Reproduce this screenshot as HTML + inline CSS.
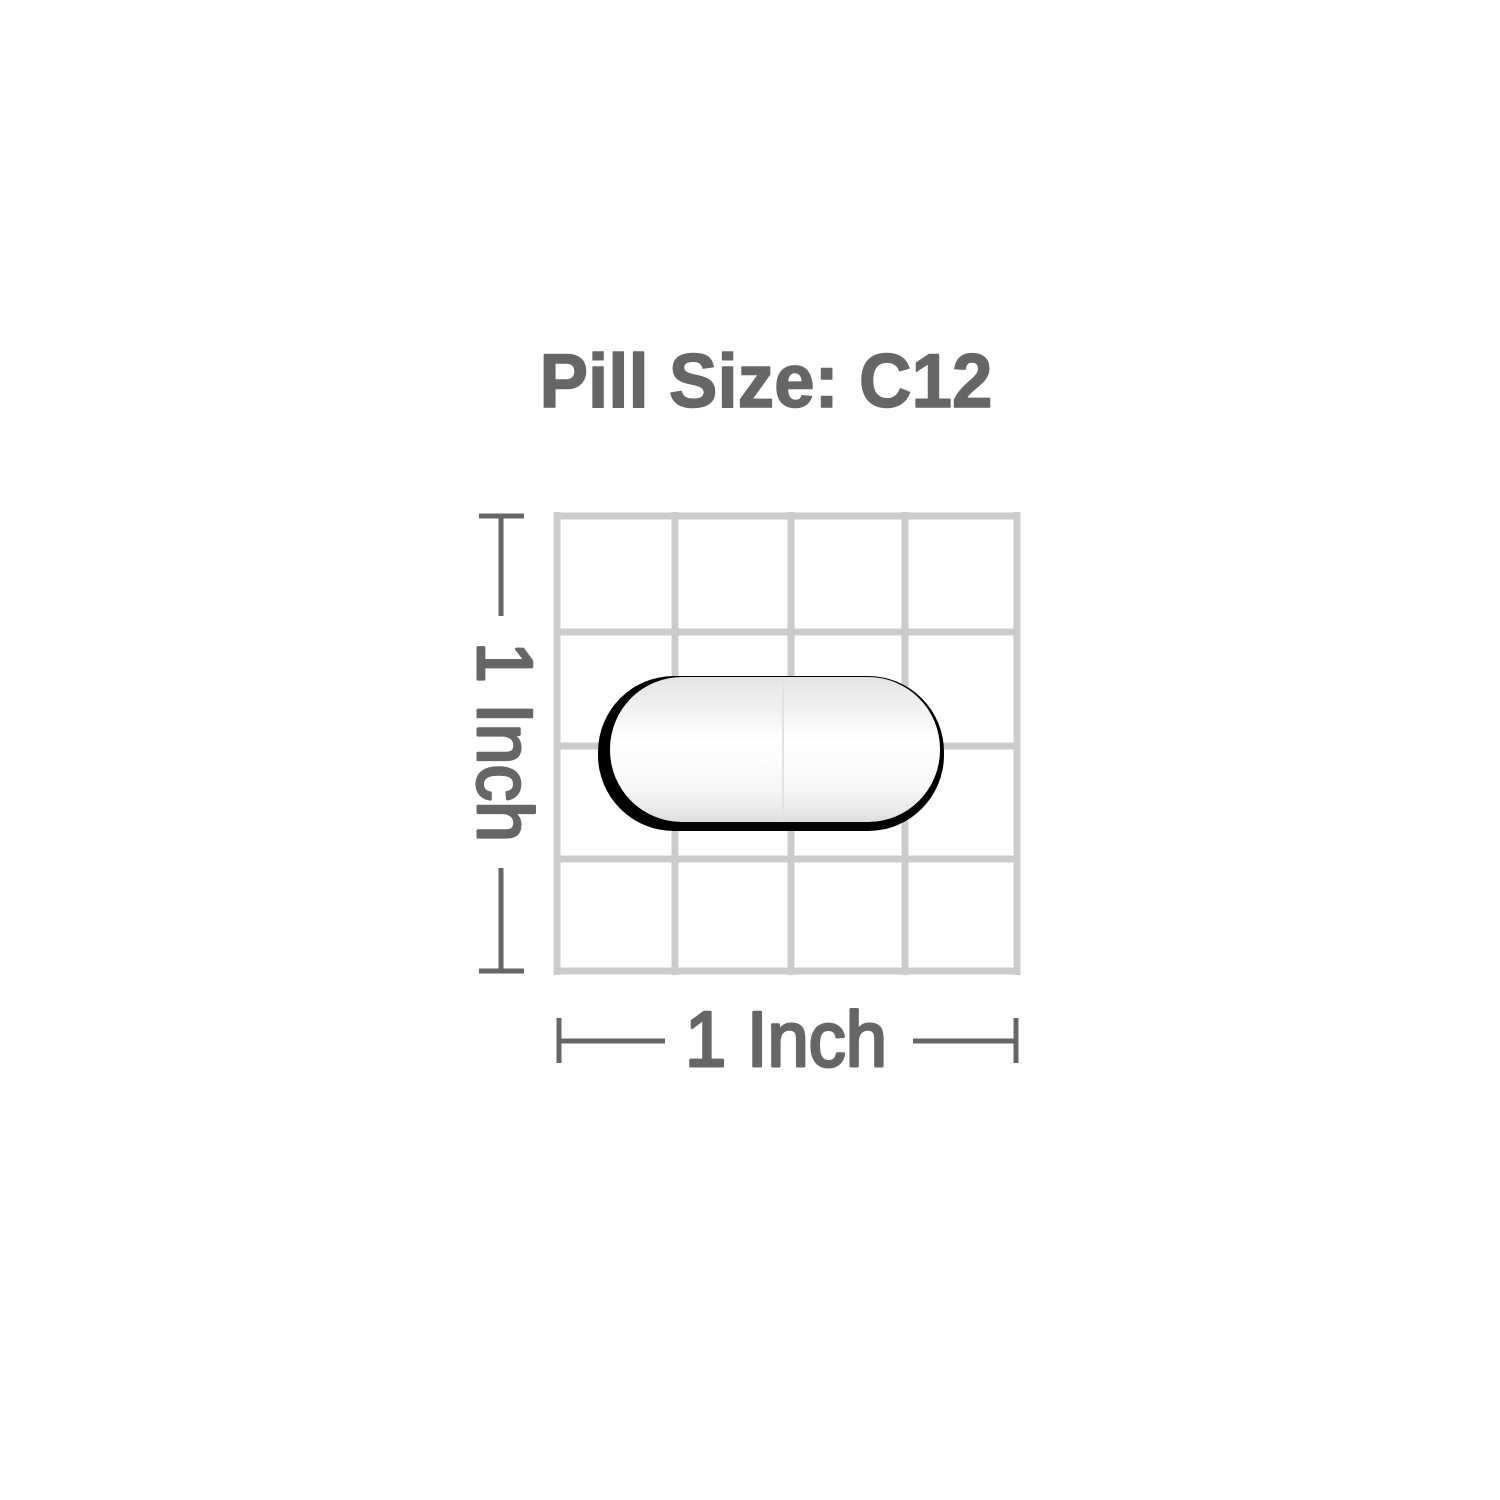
<!DOCTYPE html>
<html><head><meta charset="utf-8"><style>
html,body{margin:0;padding:0;background:#fff;}
svg{display:block;}
</style></head><body>
<svg width="1500" height="1500" viewBox="0 0 1500 1500">
<defs>
<linearGradient id="pg" x1="0" y1="0" x2="0" y2="1">
<stop offset="0" stop-color="#e4e4e4"/><stop offset="0.2" stop-color="#f0f0f0"/>
<stop offset="0.45" stop-color="#ffffff"/><stop offset="0.8" stop-color="#f6f6f6"/>
<stop offset="1" stop-color="#dedede"/></linearGradient>
</defs>
<text x="766" y="407" text-anchor="middle" font-family="Liberation Sans, sans-serif" font-weight="bold" font-size="76" fill="#666" stroke="#666" stroke-width="1.5" stroke-linejoin="round" textLength="453" lengthAdjust="spacingAndGlyphs">Pill Size: C12</text>
<g stroke="#cccccc" stroke-width="7" fill="none">
<line x1="557" y1="512" x2="557" y2="975"/><line x1="675" y1="512" x2="675" y2="975"/>
<line x1="791" y1="512" x2="791" y2="975"/><line x1="905" y1="512" x2="905" y2="975"/>
<line x1="1017" y1="512" x2="1017" y2="975"/>
<line x1="554" y1="516" x2="1020" y2="516"/><line x1="554" y1="632" x2="1020" y2="632"/>
<line x1="554" y1="746" x2="1020" y2="746"/><line x1="554" y1="859" x2="1020" y2="859"/>
<line x1="554" y1="971" x2="1020" y2="971"/>
</g>
<g>
<rect x="598" y="676" width="346" height="155" rx="76" fill="#000"/>
<rect x="610" y="677" width="330" height="145" rx="72" fill="url(#pg)"/>
<line x1="783" y1="680" x2="783" y2="820" stroke="#e2e2e2" stroke-width="2"/>
</g>
<g stroke="#666" stroke-width="5" fill="none">
<line x1="479" y1="516" x2="524" y2="516"/><line x1="501" y1="516" x2="501" y2="616"/>
<line x1="501" y1="868" x2="501" y2="971"/><line x1="479" y1="971" x2="524" y2="971"/>
</g>
<text transform="translate(478,742) rotate(90)" text-anchor="middle" font-family="Liberation Sans, sans-serif" font-size="78" fill="#666" stroke="#666" stroke-width="3" stroke-linejoin="round" textLength="200" lengthAdjust="spacingAndGlyphs">1 Inch</text>
<g stroke="#666" stroke-width="5" fill="none">
<line x1="559" y1="1018" x2="559" y2="1063"/><line x1="559" y1="1041" x2="665" y2="1041"/>
<line x1="913" y1="1041" x2="1016" y2="1041"/><line x1="1016" y1="1018" x2="1016" y2="1063"/>
</g>
<text x="786" y="1066" text-anchor="middle" font-family="Liberation Sans, sans-serif" font-size="78" fill="#666" stroke="#666" stroke-width="3" stroke-linejoin="round" textLength="202" lengthAdjust="spacingAndGlyphs">1 Inch</text>
</svg>
</body></html>
